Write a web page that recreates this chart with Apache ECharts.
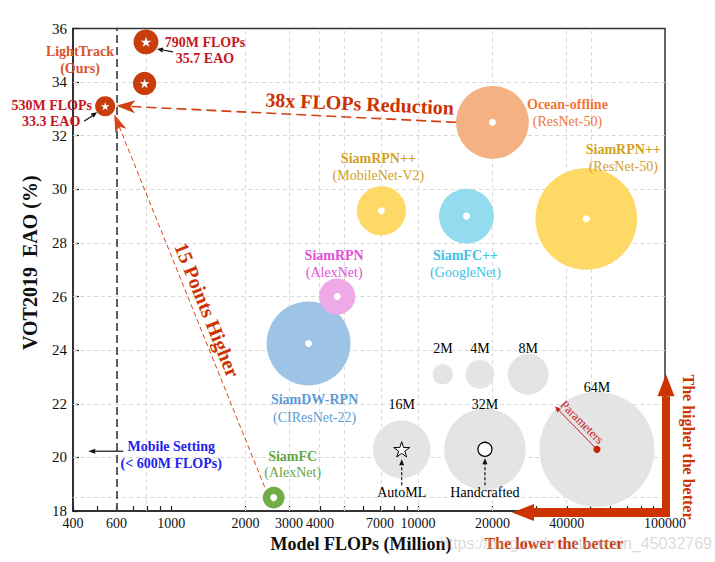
<!DOCTYPE html>
<html><head><meta charset="utf-8">
<script src="https://cdn.jsdelivr.net/npm/echarts@6/dist/echarts.min.js"></script>
<style>html,body{margin:0;padding:0;background:#fff}#c{width:715px;height:562px}</style>
</head><body><div id="c"></div>
<script>
// ---------------- data ----------------
const trackerNames = ['Ocean-offline', 'SiamRPN++', 'SiamRPN++', 'SiamFC++', 'SiamDW-RPN', 'SiamRPN', 'SiamFC'];
const trackerBackbones = ['(ResNet-50)', '(ResNet-50)', '(MobileNet-V2)', '(GoogleNet)', '(CIResNet-22)', '(AlexNet)', '(AlexNet)'];
const trackerFlops = [20000, 48000, 7100, 15700, 3600, 4700, 2600];      // Million FLOPs
const trackerEAO = [32.5, 28.9, 29.2, 29.0, 24.25, 26.0, 18.5];         // EAO (%)
const trackerParams = [25.5, 50, 11.6, 14.5, 34, 6.3, 2.3];             // Million parameters

const lightFlops = [790, 780, 540];
const lightEAO = [35.5, 33.95, 33.1];
const lightParams = [3.0, 2.6, 1.95];

const sizeLabels = ['2M', '4M', '8M', '16M', '32M', '64M'];
const sizeParams = [2, 4, 8, 16, 32, 64];
const sizeFlops = [12600, 17800, 27900, 8580, 18650, 53000];
const sizeEAO = [23.1, 23.1, 23.1, 20.3, 20.3, 20.3];

const xTickLabels = [400, 600, 1000, 2000, 3000, 4000, 7000, 10000, 20000, 40000, 100000];
const xMinorTicks = [400, 500, 600, 700, 800, 900, 1000, 2000, 3000, 4000, 5000, 6000, 7000, 8000, 9000,
                     10000, 20000, 30000, 40000, 50000, 60000, 70000, 80000, 90000, 100000];
const xGridValues = [800, 2000, 3000, 4000, 5000, 7000, 10000, 20000, 40000, 50000];
const yGridValues = [18.5, 20, 22, 24, 26, 28, 30, 32, 34];
const mobileLimit = 600;

// annotation anchors (data space)
const reductionAnchor = [5800, 33.2];
const higherAnchor = [1400, 25.5];
const mobileAnchor = [1000, 20.1];
const arrowTip = [24000, 23.1];   // ends of the "lower/higher the better" arrows
const corner = [100000, 18];

// ---------------- styles ----------------
const SERIF = '"Liberation Serif", "Times New Roman", serif';
const trackerColors = ['#f4b183', '#ffd966', '#ffd966', '#93dcf0', '#9dc3e6', '#eeaae6', '#70ad47'];
const labelColors = ['#f07634', '#d4a11e', '#d4a11e', '#3ec2e6', '#5b9bd5', '#e24fd6', '#6aa63f'];
const labelOffsets = [[75, -18, -1], [37, -69, -52], [-3, -52, -35], [-1, 39, 56], [6, 56, 74], [-3, -41, -24], [19, -41.5, -25.5]];
const sizeLabelOffsets = [-26, -26, -26, -45, -45, -62];
const RED = '#cc3300';
const LT = '#c93c0c';
const STAR = 'path://M50,0 L61.23,34.55 L97.55,34.55 L68.17,55.9 L79.39,90.45 L50,69.1 L20.61,90.45 L31.83,55.9 L2.45,34.55 L38.77,34.55 Z';

const L = Math.log10;
const sizeOf = p => 14.4 * Math.sqrt(p);

const chart = echarts.init(document.getElementById('c'), null, {renderer: 'svg'});

const option = {
  animation: false,
  backgroundColor: '#fff',
  grid: {left: 73, right: 50, top: 28.5, bottom: 51, show: true, borderColor: '#333', borderWidth: 1.5,
         backgroundColor: 'transparent', containLabel: false, outerBoundsMode: 'none'},
  xAxis: {
    type: 'value', min: L(400), max: 5,
    axisLine: {show: true, onZero: false, lineStyle: {color: '#222', width: 1.5}},
    axisTick: {show: true, inside: true, length: 5, customValues: xMinorTicks.map(L), lineStyle: {color: '#222', width: 1.2}},
    axisLabel: {customValues: xTickLabels.map(L), formatter: v => String(Math.round(Math.pow(10, v))),
                fontFamily: SERIF, fontSize: 14, color: '#111', margin: 5},
    splitLine: {show: false},
    name: 'Model FLOPs (Million)', nameLocation: 'middle', nameGap: 24, nameMoveOverlap: false,
    nameTextStyle: {fontFamily: SERIF, fontWeight: 'bold', fontSize: 18, color: '#111', padding: [0, 16, 0, 0]}
  },
  yAxis: {
    type: 'value', min: 18, max: 36, interval: 2,
    axisLine: {show: true, onZero: false, lineStyle: {color: '#222', width: 1.5}},
    axisTick: {show: true, inside: true, length: 6, lineStyle: {color: '#222', width: 1.2}},
    axisLabel: {fontFamily: SERIF, fontSize: 15, color: '#111', margin: 6},
    splitLine: {show: false},
    name: 'VOT2019\u00a0\u00a0EAO (%)', nameLocation: 'middle', nameGap: 33, nameMoveOverlap: false,
    nameTextStyle: {fontFamily: SERIF, fontWeight: 'bold', fontSize: 20, color: '#111', padding: [0, 0, 0, 14]}
  },
  series: [
    {type: 'scatter', name: 'grid', data: [], silent: true, z: 1,
     markLine: {z: 1, silent: true, symbol: 'none', label: {show: false}, emphasis: {disabled: true},
       lineStyle: {color: '#d9d9d9', type: [4, 3], width: 1},
       data: [...xGridValues.map(v => ({xAxis: L(v)})), ...yGridValues.map(v => ({yAxis: v}))]}},
    {type: 'scatter', name: 'mobile', data: [], silent: true, z: 6,
     markLine: {z: 6, silent: true, symbol: 'none', label: {show: false}, emphasis: {disabled: true},
       lineStyle: {color: '#4d4d4d', type: [8, 4], width: 1.8},
       data: [{xAxis: L(mobileLimit)}]}},
    {type: 'scatter', name: 'size legend', z: 2, silent: true,
     data: sizeFlops.map((f, i) => [L(f), sizeEAO[i], sizeParams[i]]),
     symbolSize: d => sizeOf(d[2]), itemStyle: {color: '#e4e4e4', opacity: 1}},
    {type: 'scatter', name: 'trackers', z: 3, silent: true,
     data: trackerFlops.map((f, i) => ({value: [L(f), trackerEAO[i], trackerParams[i]], itemStyle: {color: trackerColors[i], opacity: 1}})),
     symbolSize: d => sizeOf(d[2])},
    {type: 'scatter', name: 'centers', z: 4, silent: true,
     data: trackerFlops.map((f, i) => [L(f), trackerEAO[i]]),
     symbolSize: 7, itemStyle: {color: '#fff', opacity: 1}},
    {type: 'scatter', name: 'LightTrack', z: 4, silent: true,
     data: lightFlops.map((f, i) => [L(f), lightEAO[i], lightParams[i]]),
     symbolSize: d => sizeOf(d[2]), itemStyle: {color: LT, opacity: 1}},
    {type: 'scatter', name: 'LightTrack stars', z: 5, silent: true,
     data: lightFlops.map((f, i) => [L(f), lightEAO[i], lightParams[i]]),
     symbol: STAR, symbolKeepAspect: true,
     symbolSize: d => sizeOf(d[2]) * 0.43, itemStyle: {color: '#fff', opacity: 1}},
    {type: 'scatter', name: 'AutoML', z: 5, silent: true,
     data: [[L(sizeFlops[3]), sizeEAO[3]]], symbol: STAR, symbolKeepAspect: true, symbolSize: 16,
     itemStyle: {color: '#fff', borderColor: '#000', borderWidth: 1, opacity: 1}},
    {type: 'scatter', name: 'Handcrafted', z: 5, silent: true,
     data: [[L(sizeFlops[4]), sizeEAO[4]]], symbol: 'circle', symbolSize: 14,
     itemStyle: {color: '#fff', borderColor: '#000', borderWidth: 1.3, opacity: 1}},
    {type: 'scatter', name: 'Parameters', z: 5, silent: true,
     data: [[L(sizeFlops[5]), sizeEAO[5]]], symbolSize: 7, itemStyle: {color: '#cc2200', opacity: 1}}
  ]
};
chart.setOption(option);

// ---------------- annotations ----------------
const P = (x, y) => chart.convertToPixel({gridIndex: 0}, [L(x), y]);
function text(str, x, y, o) {
  o = o || {};
  return {type: 'text', x: x, y: y, rotation: (o.rot || 0) * Math.PI / 180, z: o.z || 20, silent: true,
    style: {text: str, fill: o.color || '#000', fontSize: o.size || 14, fontWeight: o.bold ? 'bold' : 'normal',
      fontFamily: o.family || SERIF, align: o.align || 'center', verticalAlign: 'middle',
      textAlign: o.align || 'center', textVerticalAlign: 'middle', opacity: o.opacity == null ? 1 : o.opacity}};
}
function arrow(fx, fy, tx, ty, o) {
  const dx = tx - fx, dy = ty - fy, d = Math.hypot(dx, dy), ux = dx / d, uy = dy / d, nx = -uy, ny = ux;
  const len = o.len, wid = o.wid, notch = o.notch || 0;
  const bx = tx - ux * len, by = ty - uy * len;
  const ex = bx + ux * len * notch, ey = by + uy * len * notch;
  const pts = [[tx, ty], [bx + nx * wid / 2, by + ny * wid / 2], [ex, ey], [bx - nx * wid / 2, by - ny * wid / 2]];
  return [
    {type: 'line', z: o.z || 15, silent: true, shape: {x1: fx, y1: fy, x2: ex, y2: ey},
     style: {stroke: o.color, lineWidth: o.w || 1, lineDash: o.dash || null}},
    {type: 'polygon', z: o.z || 15, silent: true, shape: {points: pts}, style: {fill: o.color}}
  ];
}

const g = [];
// tracker labels
trackerFlops.forEach((f, i) => {
  const c = P(f, trackerEAO[i]), o = labelOffsets[i];
  g.push(text(trackerNames[i], c[0] + o[0], c[1] + o[1], {bold: true, color: labelColors[i]}));
  g.push(text(trackerBackbones[i], c[0] + o[0], c[1] + o[2], {color: labelColors[i]}));
});
// size legend labels
sizeFlops.forEach((f, i) => {
  const c = P(f, sizeEAO[i]);
  g.push(text(sizeLabels[i], c[0], c[1] + sizeLabelOffsets[i], {size: 14}));
});
// AutoML / Handcrafted
{
  const a = P(sizeFlops[3], sizeEAO[3]);
  g.push(text('AutoML', a[0], a[1] + 43, {size: 14}));
  g.push(...arrow(a[0], a[1] + 36, a[0], a[1] + 10, {color: '#111', w: 1.2, dash: [3, 2], len: 6, wid: 5}));
  const h = P(sizeFlops[4], sizeEAO[4]);
  g.push(text('Handcrafted', h[0], h[1] + 43, {size: 14}));
  g.push(...arrow(h[0], h[1] + 36, h[0], h[1] + 9, {color: '#111', w: 1.2, dash: [3, 2], len: 6, wid: 5}));
  const p = P(sizeFlops[5], sizeEAO[5]);
  g.push(...arrow(p[0], p[1], p[0] - 42, p[1] - 43, {color: '#c82020', w: 1, len: 6, wid: 5}));
  g.push(text('Parameters', p[0] - 15, p[1] - 27, {size: 12.5, color: '#c82020', rot: -45}));
}
// LightTrack labels
{
  const a = P(lightFlops[0], lightEAO[0]);
  g.push(text('LightTrack', a[0] - 66, a[1] + 10, {bold: true, color: '#d9532f'}));
  g.push(text('(Ours)', a[0] - 66, a[1] + 27, {bold: true, color: '#d9532f'}));
  g.push(text('790M FLOPs', a[0] + 59, a[1] + 1, {bold: true, color: '#c8161e'}));
  g.push(text('35.7 EAO', a[0] + 59, a[1] + 17, {bold: true, color: '#c8161e'}));
  g.push(...arrow(a[0] + 27, a[1] + 10, a[0] + 11, a[1] + 7, {color: '#111', w: 1.2, len: 6, wid: 5}));
  const c = P(lightFlops[2], lightEAO[2]);
  g.push(text('530M FLOPs', c[0] - 53.5, c[1] - 1, {bold: true, color: '#c8161e'}));
  g.push(text('33.3 EAO', c[0] - 54, c[1] + 15, {bold: true, color: '#c8161e'}));
  g.push(...arrow(c[0] - 21, c[1] + 15, c[0] - 8, c[1] + 6, {color: '#111', w: 1.2, len: 6, wid: 5}));
  // 38x reduction arrow from Ocean
  const oc = P(trackerFlops[0], trackerEAO[0]);
  const r0 = sizeOf(trackerParams[0]) / 2;
  g.push(...arrow(oc[0] - r0, oc[1], c[0] + 11, c[1] - 0.5, {color: '#d04010', w: 1.6, dash: [10, 5], len: 19, wid: 13, notch: 0.25}));
  // 15 points higher arrow from SiamFC
  const fc = P(trackerFlops[6], trackerEAO[6]);
  g.push(...arrow(fc[0] - 9, fc[1] - 10.5, c[0] + 9, c[1] + 8, {color: '#d8461b', w: 1, dash: [5, 3], len: 18, wid: 12, notch: 0.25}));
}
{
  const r = P(reductionAnchor[0], reductionAnchor[1]);
  g.push(text('38x FLOPs Reduction', r[0], r[1], {bold: true, size: 20, color: RED, rot: -2.5}));
  const h = P(higherAnchor[0], higherAnchor[1]);
  g.push(text('15 Points Higher', h[0], h[1], {bold: true, size: 20, color: RED, rot: -68}));
  const m = P(mobileAnchor[0], mobileAnchor[1]);
  g.push(text('Mobile Setting', m[0], m[1] - 8.5, {bold: true, color: '#2222ee'}));
  g.push(text('(< 600M FLOPs)', m[0], m[1] + 8.5, {bold: true, color: '#2222ee'}));
  g.push(...arrow(m[0] - 48, m[1] - 3.5, m[0] - 83, m[1] - 3.5, {color: '#111', w: 1.2, len: 7, wid: 5}));
}
// "the better" arrows at the corner
{
  const k = P(corner[0], corner[1]);
  const ty = P(corner[0], arrowTip[1])[1];
  const tx = P(arrowTip[0], corner[1])[0];
  const vx = k[0] + 1, hy = k[1] + 1.5;
  g.push({type: 'rect', z: 30, silent: true, shape: {x: vx - 4, y: ty + 22, width: 8, height: (k[1] + 6) - (ty + 22)}, style: {fill: RED}});
  g.push({type: 'polygon', z: 30, silent: true, shape: {points: [[vx, ty], [vx - 8.5, ty + 22], [vx + 8.5, ty + 22]]}, style: {fill: RED}});
  g.push({type: 'rect', z: 30, silent: true, shape: {x: tx + 22, y: hy - 4.5, width: (k[0] + 5) - (tx + 22), height: 9}, style: {fill: RED}});
  g.push({type: 'polygon', z: 30, silent: true, shape: {points: [[tx, hy], [tx + 22, hy - 8.5], [tx + 22, hy + 8.5]]}, style: {fill: RED}});
  g.push(text('The higher the better', k[0] + 23, k[1] - 64, {bold: true, size: 16, color: RED, rot: -90}));
  g.push(text('The lower the better', k[0] - 111, k[1] + 32, {bold: true, size: 16, color: RED, z: 31}));
  g.push(text('https://blog.csdn.net/weixin_45032769', 712, k[1] + 32,
    {size: 16, family: '"Liberation Sans", Arial, sans-serif', color: '#bdbdbd', align: 'right', opacity: 0.55, z: 32}));
}
chart.setOption({graphic: {elements: g}});
</script>
</body></html>
